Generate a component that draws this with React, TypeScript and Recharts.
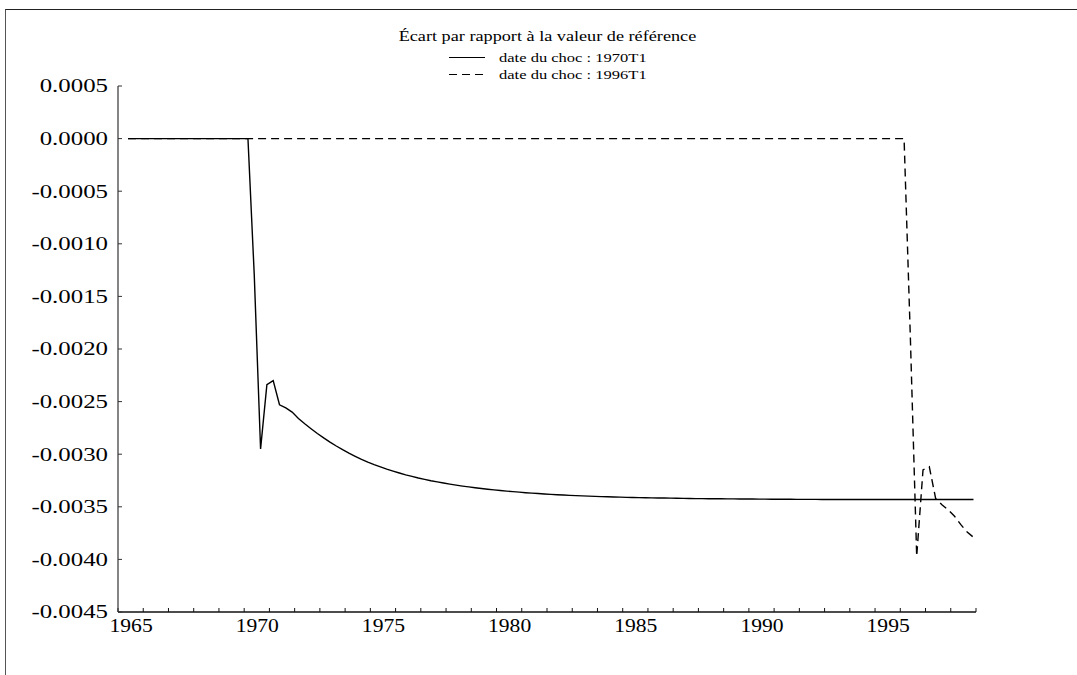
import { LineChart, Line, XAxis, YAxis, Legend } from 'recharts';

const SERIF = "'Liberation Serif', 'Times New Roman', serif";

const TITLE = 'Écart par rapport à la valeur de référence';
const SERIES_1970 = 'date du choc : 1970T1';
const SERIES_1996 = 'date du choc : 1996T1';

// quarterly dates, 1965T1 .. 1998T3
const quarterTimes = Array.from({ length: 135 }, (_, i) => 1965 + i / 4);

// shock dated 1970T1
const shock1970 = [
  ...Array(20).fill(0),
  -0.0013, -0.00295, -0.00234, -0.0023, -0.00253, -0.00256, -0.0026,
  -0.00266, -0.002711, -0.002758, -0.002803, -0.002845, -0.002885, -0.002922, -0.002957, -0.00299, -0.00302,
  -0.003049, -0.003075, -0.003099, -0.003121, -0.003142, -0.003161, -0.003179, -0.003196, -0.003211, -0.003226,
  -0.003239, -0.003252, -0.003263, -0.003274, -0.003284, -0.003294, -0.003303, -0.003311, -0.003319, -0.003326,
  -0.003333, -0.003339, -0.003345, -0.003351, -0.003356, -0.003361, -0.003366, -0.00337, -0.003374, -0.003378,
  -0.003382, -0.003385, -0.003388, -0.003391, -0.003394, -0.003396, -0.003399, -0.003401, -0.003403, -0.003405,
  -0.003407, -0.003408, -0.00341, -0.003411, -0.003413, -0.003414, -0.003415, -0.003416, -0.003417, -0.003418,
  -0.003419, -0.00342, -0.003421, -0.003422, -0.003422, -0.003423, -0.003424, -0.003424, -0.003425, -0.003425,
  -0.003426, -0.003426, -0.003426, -0.003427, -0.003427,
  -0.003428, -0.003428, -0.003428, -0.003428, -0.003429, -0.003429, -0.003429, -0.003429,
  ...Array(26).fill(-0.00343),
];

// shock dated 1996T1
const shock1996 = [
  ...Array(124).fill(0),
  -0.0019, -0.00397, -0.00315, -0.00312, -0.00342, -0.00348, -0.00353, -0.00359, -0.00367, -0.00374, -0.00379,
];

const yTicks = [0.0005, 0, -0.0005, -0.001, -0.0015, -0.002, -0.0025, -0.003, -0.0035, -0.004, -0.0045];
const yearLabels = [1965, 1970, 1975, 1980, 1985, 1990, 1995];
const minorTicks = Array.from({ length: 35 }, (_, k) => 1964.6 + k);

const X_DOMAIN: [number, number] = [1964.6, 1998.6];
const Y_DOMAIN: [number, number] = [-0.0045, 0.0005];

const rows = quarterTimes.map((t, i) => ({ t, s1970: shock1970[i], s1996: shock1996[i] }));

function YLabel(props: any) {
  const { x, y, payload } = props;
  return (
    <text x={0} y={0} dy="0.35em" transform={`translate(${x},${y}) scale(1.38,1)`}
      textAnchor="end" fontSize={18} fontFamily={SERIF} fill="#000">
      {Number(payload.value).toFixed(4)}
    </text>
  );
}

function XLabel(props: any) {
  const { x, y, payload } = props;
  return (
    <text x={0} y={0} dy={12} transform={`translate(${x + 3},${y}) scale(1.2,1)`}
      textAnchor="middle" fontSize={18} fontFamily={SERIF} fill="#000">
      {payload.value}
    </text>
  );
}

function NoLabel() {
  return <g />;
}

function LegendBox({ payload }: any) {
  return (
    <div style={{ fontFamily: SERIF, color: '#000', textAlign: 'center' }}>
      <div style={{ height: 20, lineHeight: '20px', fontSize: 14, marginBottom: 2 }}>
        <span style={{ display: 'inline-block', transform: 'scaleX(1.3)' }}>{TITLE}</span>
      </div>
      {(payload || []).map((entry: any) => (
        <div key={entry.value} style={{ display: 'flex', justifyContent: 'center', alignItems: 'center', height: 17 }}>
          <svg width={36} height={17}>
            <line x1={0} x2={36} y1={8.5} y2={8.5} stroke="#000" strokeWidth={1.2}
              strokeDasharray={entry.payload?.strokeDasharray} />
          </svg>
          <span style={{ width: 148, marginLeft: 14, textAlign: 'left', fontSize: 13, whiteSpace: 'nowrap' }}>
            <span style={{ display: 'inline-block', transform: 'scaleX(1.27)', transformOrigin: 'left center' }}>
              {entry.value}
            </span>
          </span>
        </div>
      ))}
    </div>
  );
}

export default function App() {
  return (
    <div style={{ position: 'fixed', left: 0, top: 0, width: 1077, height: 675, background: '#fff', overflow: 'hidden' }}>
      {/* page frame */}
      <div style={{ position: 'absolute', left: 5, top: 9, width: 1100, height: 700, borderTop: '1.5px solid #222', borderLeft: '1.5px solid #555' }} />
      <div style={{ position: 'absolute', left: 0, top: 0 }}>
        <LineChart width={1077} height={675} data={rows} margin={{ top: 86, right: 101, left: 0, bottom: 33 }}>
          <XAxis xAxisId="q" dataKey="t" type="number" domain={X_DOMAIN} allowDataOverflow ticks={minorTicks}
            interval={0} mirror height={1} tick={<NoLabel />} tickSize={4} axisLine={false}
            tickLine={{ stroke: '#111', strokeWidth: 1 }} />
          <XAxis xAxisId="lab" dataKey="t" type="number" domain={X_DOMAIN} allowDataOverflow ticks={yearLabels}
            interval={0} height={30} tickLine={false} tickSize={0} tickMargin={8}
            axisLine={{ stroke: '#111', strokeWidth: 1.5 }} tick={<XLabel />} />
          <YAxis yAxisId="v" type="number" domain={Y_DOMAIN} allowDataOverflow ticks={yTicks} interval={0}
            width={118} tickLine={false} tickSize={4} tickMargin={6}
            axisLine={{ stroke: '#333', strokeWidth: 1.2 }} tick={<YLabel />} />
          <YAxis yAxisId="vt" type="number" domain={Y_DOMAIN} allowDataOverflow ticks={yTicks} interval={0}
            mirror width={1} tick={<NoLabel />} tickSize={4} axisLine={false}
            tickLine={{ stroke: '#333', strokeWidth: 1 }} />
          <Legend layout="horizontal" verticalAlign="middle" align="center"
            wrapperStyle={{ top: 27, left: 0, width: 1095 }} content={<LegendBox />} />
          <Line xAxisId="q" yAxisId="v" dataKey="s1970" name={SERIES_1970} stroke="#000" strokeWidth={1.4}
            dot={false} activeDot={false} isAnimationActive={false} />
          <Line xAxisId="q" yAxisId="v" dataKey="s1996" name={SERIES_1996} stroke="#000" strokeWidth={1.4}
            strokeDasharray="8 5" dot={false} activeDot={false} isAnimationActive={false} />
        </LineChart>
      </div>
    </div>
  );
}
